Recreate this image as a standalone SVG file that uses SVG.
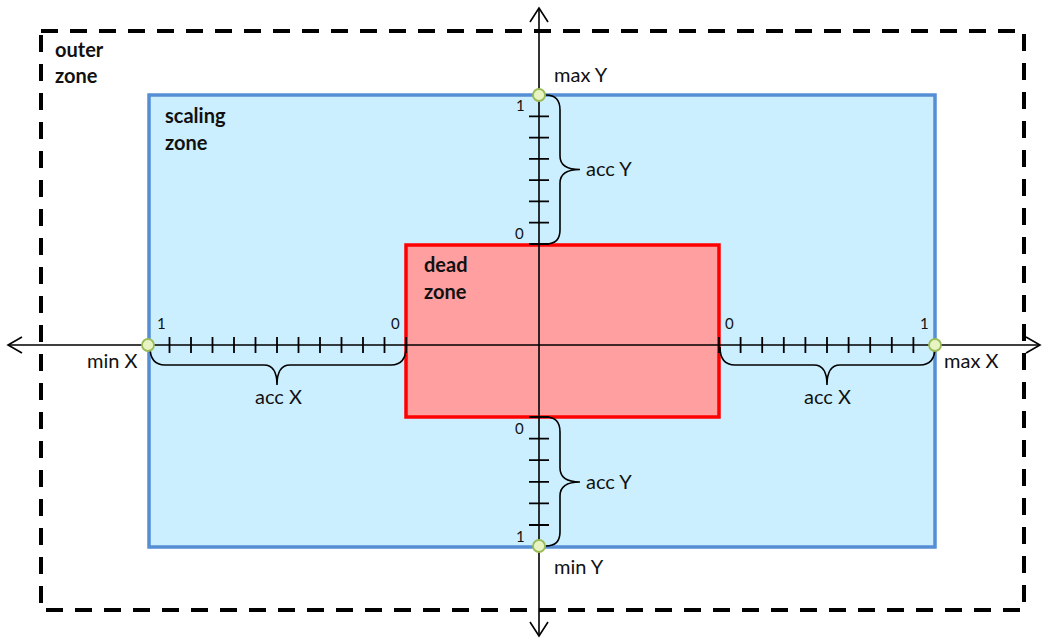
<svg xmlns="http://www.w3.org/2000/svg" width="1044" height="642" viewBox="0 0 1044 642">
<style>
.lbl{font-family:Lato,"Liberation Sans",sans-serif;font-size:20px;fill:#111}
.bold{font-weight:bold}
.num{font-family:Lato,"Liberation Sans",sans-serif;font-size:15px;fill:#111}
.axis{stroke:#000;stroke-width:1.6;fill:none}
.tick{stroke:#000;stroke-width:1.8;fill:none}
.brace{stroke:#000;stroke-width:1.6;fill:none}
.dot{fill:#e8f3c2;stroke:#9bbb59;stroke-width:1.8}
</style>
<rect width="1044" height="642" fill="#fff"/>
<g id="outer-zone">
<rect x="41" y="31" width="983" height="579" fill="none" stroke="#000" stroke-width="4" stroke-dasharray="17 12"/>
<text class="lbl bold" x="55" y="57">outer</text>
<text class="lbl bold" x="55" y="83">zone</text>
</g>
<g id="scaling-zone">
<rect x="149" y="95" width="786" height="452" fill="#ccefff" stroke="#558ed5" stroke-width="3.5"/>
<text class="lbl bold" x="165" y="123">scaling</text>
<text class="lbl bold" x="165" y="150">zone</text>
</g>
<g id="dead-zone">
<rect x="406" y="245" width="313" height="172" fill="#ff9f9f" stroke="#ff0000" stroke-width="3.5"/>
<text class="lbl bold" x="424" y="272">dead</text>
<text class="lbl bold" x="424" y="299">zone</text>
</g>
<g id="connectors">
<path class="axis" d="M8 345 H1040 M539 8 V636"/>
<path class="axis" d="M22 337 L8 345 L22 353 M1026 337 L1040 345 L1026 353 M530 22 L539 8 L548 22 M530 622 L539 636 L548 622"/>
<path class="tick" d="M169.5 337V353M191 337V353M212.5 337V353M234 337V353M255.5 337V353M277 337V353M298.5 337V353M320 337V353M341.5 337V353M363 337V353M384.5 337V353M406 337V353"/>
<path class="tick" d="M719 337V353M740.6 337V353M762.2 337V353M783.8 337V353M805.4 337V353M827 337V353M848.6 337V353M870.2 337V353M891.8 337V353M913.4 337V353"/>
<path class="tick" d="M529 116.3H549M529 137.6H549M529 158.9H549M529 180.1H549M529 201.4H549M529 222.7H549M529 244H549"/>
<path class="tick" d="M529 417H549M529 438.6H549M529 460.2H549M529 481.8H549M529 503.4H549M529 525H549"/>
<path class="brace" d="M150 347 Q150 365 165 365 L264 365 Q277 365 277 385 Q277 365 290 365 L391 365 Q406 365 406 347"/>
<path class="brace" d="M720 347 Q720 365 735 365 L814 365 Q827 365 827 385 Q827 365 840 365 L920 365 Q935 365 935 347"/>
<path class="brace" d="M546 95 Q560 95 560 110 L560 156 Q560 169.5 580 169.5 Q560 169.5 560 183 L560 230 Q560 244 546 244"/>
<path class="brace" d="M546 417 Q560 417 560 432 L560 468 Q560 482 580 482 Q560 482 560 496 L560 532 Q560 546 546 546"/>
</g>
<g id="points">
<circle class="dot" cx="148" cy="345" r="6"/>
<circle class="dot" cx="935" cy="345" r="6"/>
<circle class="dot" cx="539" cy="95" r="6"/>
<circle class="dot" cx="539" cy="546" r="6"/>
</g>
<g id="labels">
<text class="lbl" x="554" y="82">max Y</text>
<text class="lbl" x="586" y="176">acc Y</text>
<text class="num" x="516" y="111">1</text>
<text class="num" x="515" y="239">0</text>
<text class="num" x="515" y="434">0</text>
<text class="num" x="516" y="542">1</text>
<text class="lbl" x="586" y="489">acc Y</text>
<text class="lbl" x="554" y="574">min Y</text>
<text class="num" x="157" y="329">1</text>
<text class="num" x="391" y="329">0</text>
<text class="lbl" x="255" y="404">acc X</text>
<text class="lbl" x="87" y="368">min X</text>
<text class="num" x="725" y="329">0</text>
<text class="num" x="920" y="329">1</text>
<text class="lbl" x="944" y="368">max X</text>
<text class="lbl" x="804" y="404">acc X</text>
</g>
</svg>
